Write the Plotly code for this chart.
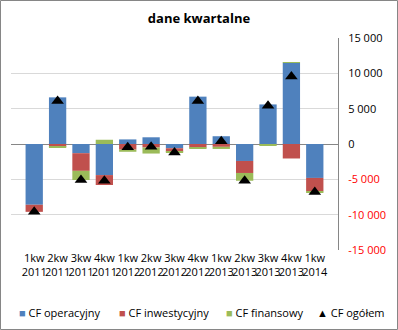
import plotly.graph_objects as go

categories = ["1kw<br>2011", "2kw<br>2011", "3kw<br>2011", "4kw<br>2011",
              "1kw<br>2012", "2kw<br>2012", "3kw<br>2012", "4kw<br>2012",
              "1kw<br>2013", "2kw<br>2013", "3kw<br>2013", "4kw<br>2013",
              "1kw<br>2014"]
cf_operacyjny = [-8600, 6600, -1300, -4400, 650, 950, -600, 6700, 1100, -2400, 5600, 11500, -4800]
cf_inwestycyjny = [-1000, -400, -2500, -1400, -800, -500, -500, -500, -400, -1700, -100, -2050, -1900]
cf_finansowy = [0, -100, -1300, 600, -300, -850, -100, -100, -300, -1100, -100, 100, -100]
cf_ogolem = [-9600, 6100, -5100, -5200, -450, -400, -1200, 6100, 400, -5200, 5400, 9550, -6800]

tick_vals = [-15000, -10000, -5000, 0, 5000, 10000, 15000]
tick_text = ["<span style='color:#FF0000'>-15 000</span>",
             "<span style='color:#FF0000'>-10 000</span>",
             "<span style='color:#FF0000'>-5 000</span>",
             "0", "5 000", "10 000", "15 000"]

series_names = ["CF operacyjny", "CF inwestycyjny", "CF finansowy", "CF ogółem"]
series_colors = ["#4F81BD", "#C0504D", "#9BBB59", "#000000"]
legend_symbols = ["■", "■", "■", "▲"]

font_family = "Open Sans, Noto Sans, sans-serif"

# plot area geometry (px)
L, R, T, B = 11, 60, 38, 80
W, H = 398, 330
PW, PH = W - L - R, H - T - B

fig = go.Figure()
for name, vals, col in zip(series_names[:3], [cf_operacyjny, cf_inwestycyjny, cf_finansowy], series_colors[:3]):
    fig.add_trace(go.Bar(x=categories, y=vals, name=name,
                         marker=dict(color=col, line=dict(width=0))))
fig.add_trace(go.Scatter(x=categories, y=cf_ogolem, name=series_names[3], mode="markers",
                         marker=dict(symbol="triangle-up", size=11, color="#000000")))

# legend drawn as text row below the chart
legend_x_px = [17, 117, 224, 315]
annotations = []
for sym, name, col, xp in zip(legend_symbols, series_names, series_colors, legend_x_px):
    annotations.append(dict(
        xref="paper", yref="paper", x=(xp - L) / PW, y=-(312 - (T + PH)) / PH,
        xanchor="left", yanchor="middle", showarrow=False,
        text=f"<span style='color:{col}'>{sym}</span> {name}",
        font=dict(size=11, family=font_family, color="#000000")))

fig.update_layout(
    width=W, height=H,
    margin=dict(l=L, r=R, t=T, b=B, autoexpand=False),
    paper_bgcolor="white", plot_bgcolor="white",
    barmode="relative", bargap=0.26,
    font=dict(family=font_family, size=11, color="#000000"),
    title=dict(text="<b>dane kwartalne</b>", x=0.5, xanchor="center", y=0.945, yanchor="middle",
               font=dict(size=13, family=font_family)),
    showlegend=False,
    annotations=annotations,
    shapes=[dict(type="rect", xref="paper", yref="paper", x0=-(L - 0.5) / PW, x1=(W - L - 0.5) / PW,
                 y0=-(B - 0.5) / PH, y1=(H - B - 0.5) / PH, line=dict(color="#868686", width=1))],
)
fig.update_xaxes(showgrid=False, showline=False, ticks="", tickfont=dict(size=11),
                 tickangle=0, automargin=False)
fig.update_yaxes(side="right", range=[-15000, 15000], tickvals=tick_vals, ticktext=tick_text,
                 showgrid=True, gridcolor="#D9D9D9", gridwidth=1,
                 zeroline=True, zerolinecolor="#868686", zerolinewidth=1,
                 showline=True, linecolor="#868686", linewidth=1, ticks="",
                 tickfont=dict(size=11), ticklabelstandoff=7, automargin=False)

fig.write_html("out.html")
